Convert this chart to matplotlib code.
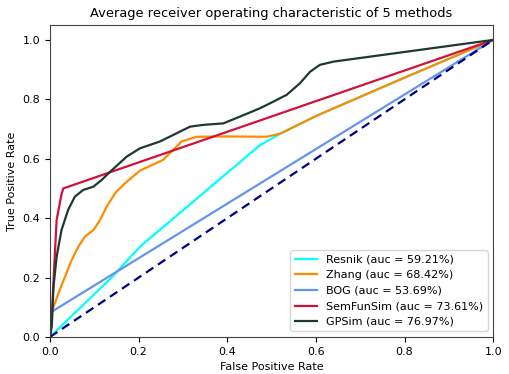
import numpy as np
import matplotlib.pyplot as plt

# ROC points
resnik_fpr = [0, 0.139, 0.203, 0.474, 0.523, 0.602, 0.797, 1]
resnik_tpr = [0, 0.2, 0.304, 0.646, 0.687, 0.745, 0.871, 1]

zhang_fpr = [0, 0.004, 0.019, 0.034, 0.049, 0.064, 0.079, 0.098, 0.113, 0.128,
             0.147, 0.169, 0.203, 0.255, 0.297, 0.331, 0.4, 0.489, 0.52,
             0.602, 0.797, 1]
zhang_tpr = [0, 0.085, 0.147, 0.203, 0.259, 0.304, 0.338, 0.36, 0.394, 0.439,
             0.484, 0.517, 0.56, 0.596, 0.658, 0.674, 0.675, 0.674, 0.685,
             0.745, 0.871, 1]

bog_fpr = [0, 0.004, 1]
bog_tpr = [0, 0.085, 1]

semfun_fpr = [0, 0.004, 0.008, 0.015, 0.026, 0.03, 1]
semfun_tpr = [0, 0.068, 0.19, 0.394, 0.48, 0.5, 1]

gpsim_fpr = [0, 0.004, 0.008, 0.015, 0.026, 0.041, 0.056, 0.075, 0.098, 0.117,
             0.132, 0.173, 0.203, 0.248, 0.278, 0.316, 0.346, 0.391, 0.429,
             0.474, 0.497, 0.534, 0.564, 0.587, 0.609, 0.64, 1]
gpsim_tpr = [0, 0.035, 0.17, 0.27, 0.36, 0.428, 0.472, 0.495, 0.506, 0.529,
             0.551, 0.607, 0.635, 0.658, 0.68, 0.708, 0.714, 0.719, 0.742,
             0.77, 0.787, 0.815, 0.854, 0.893, 0.916, 0.927, 1]

names = ['Resnik', 'Zhang', 'BOG', 'SemFunSim', 'GPSim']
aucs = [59.21, 68.42, 53.69, 73.61, 76.97]
colors = ['aqua', 'darkorange', 'cornflowerblue', '#d2123c', '#1d3a30']

curves = [(resnik_fpr, resnik_tpr), (zhang_fpr, zhang_tpr), (bog_fpr, bog_tpr),
          (semfun_fpr, semfun_tpr), (gpsim_fpr, gpsim_tpr)]

fig = plt.figure(figsize=(5.1, 3.74), dpi=100)
ax = fig.add_axes([0.098, 0.099, 0.869, 0.834])

for (fpr, tpr), name, auc, c in zip(curves, names, aucs, colors):
    ax.plot(fpr, tpr, color=c, lw=1.6,
            label=name + ' (auc = %0.2f%%)' % auc)

ax.plot([0, 1], [0, 1], color='navy', lw=1.6, linestyle='--', dashes=(4, 2.5))
ax.set_xlim(0.0, 1.0)
ax.set_ylim(0.0, 1.05)
ax.set_xlabel('False Positive Rate', fontsize=8)
ax.set_ylabel('True Positive Rate', fontsize=8)
ax.set_title('Average receiver operating characteristic of 5 methods', fontsize=9.4)
ax.tick_params(labelsize=8)
for s in ax.spines.values():
    s.set_color('#444444')
ax.legend(loc='lower right', fontsize=8)

fig.savefig('out.png', dpi=100)
